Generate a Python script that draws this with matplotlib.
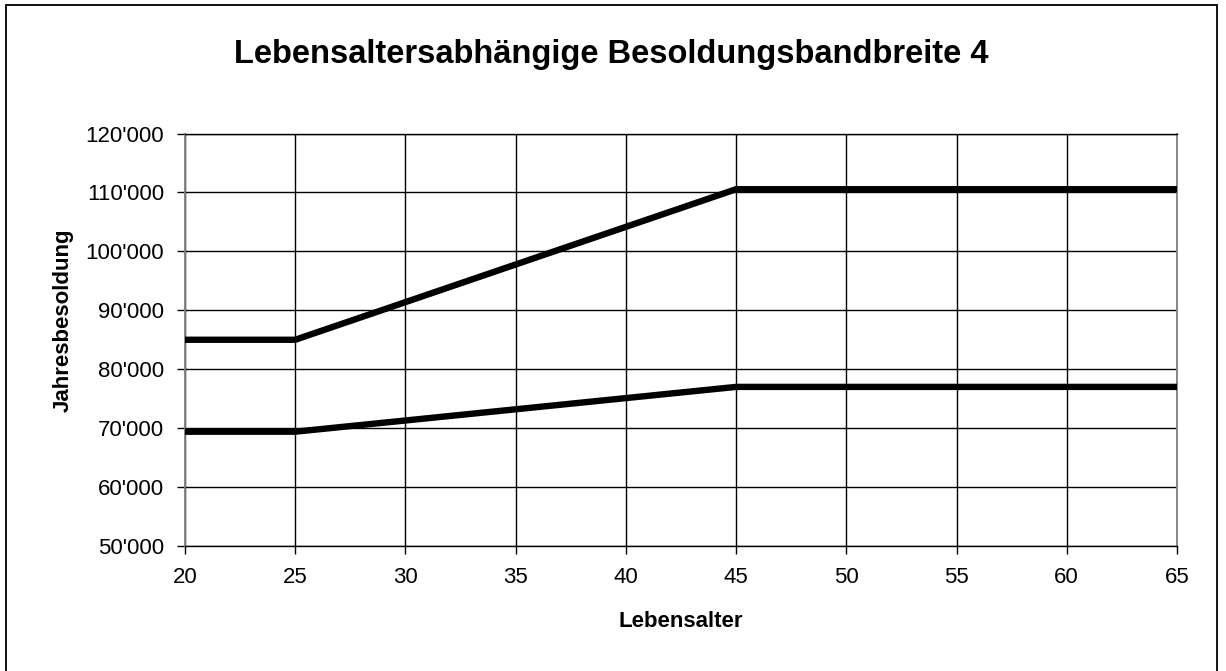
import matplotlib
matplotlib.use("Agg")
import matplotlib.pyplot as plt
from matplotlib.patches import Rectangle
from matplotlib.ticker import FuncFormatter, MultipleLocator

# Daten: Lebensalter und Jahresbesoldung (Min / Max)
alter = [20, 25, 45, 65]
besoldung_max = [85000, 85000, 110550, 110550]
besoldung_min = [69400, 69400, 77000, 77000]

plt.rcParams['font.family'] = ['Liberation Sans', 'DejaVu Sans']

fig = plt.figure(figsize=(12.26, 6.71), dpi=100)
ax = fig.add_axes([0.1509, 0.1863, 0.8091, 0.6147])

# Rahmen um die ganze Grafik
rahmen = Rectangle((6 / 1226, -0.01), 1211 / 1226, 1 - 5 / 671 + 0.01,
                   transform=fig.transFigure, fill=False, edgecolor='black',
                   linewidth=1.3, zorder=0)
fig.patches.append(rahmen)

ax.plot(alter, besoldung_max, color='black', linewidth=4.6, solid_capstyle='butt', zorder=3)
ax.plot(alter, besoldung_min, color='black', linewidth=4.6, solid_capstyle='butt', zorder=3)

ax.set_xlim(20, 65)
ax.set_ylim(50000, 120000)
ax.xaxis.set_major_locator(MultipleLocator(5))
ax.yaxis.set_major_locator(MultipleLocator(10000))


def tausender(wert, pos):
    return f"{int(wert):,}".replace(",", "'")


ax.yaxis.set_major_formatter(FuncFormatter(tausender))
ax.grid(True, color='black', linewidth=1.0)
ax.set_axisbelow(True)

for seite in ['left', 'right']:
    ax.spines[seite].set_color('#808080')
    ax.spines[seite].set_linewidth(1.3)
for seite in ['top', 'bottom']:
    ax.spines[seite].set_color('black')
    ax.spines[seite].set_linewidth(1.0)

ax.tick_params(axis='both', direction='out', length=6, width=1, labelsize=16, colors='black')
ax.tick_params(axis='x', pad=9)
ax.tick_params(axis='y', pad=9)

ax.set_xlabel('Lebensalter', fontsize=16, fontweight='bold', labelpad=17)
ax.set_ylabel('Jahresbesoldung', fontsize=16, fontweight='bold')
ax.yaxis.set_label_coords(-0.112, 0.548)
fig.text(0.5 * (6 + 1217) / 1226, 1 - 55 / 671, 'Lebensaltersabhängige Besoldungsbandbreite 4',
         ha='center', va='center', fontsize=23.5, fontweight='bold')

fig.savefig('out.png', dpi=100)
